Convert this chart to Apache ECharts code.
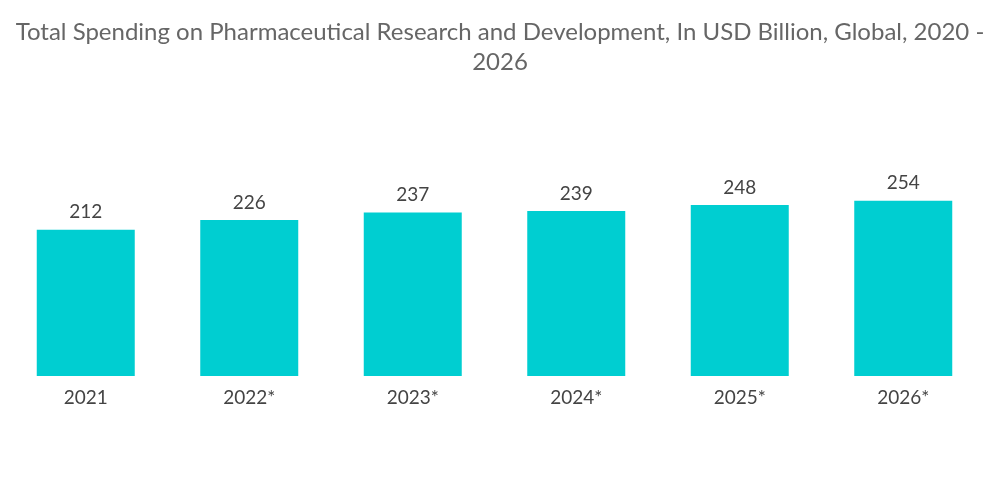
<!DOCTYPE html>
<html><head><meta charset="utf-8">
<script src="https://cdn.jsdelivr.net/npm/echarts@6/dist/echarts.min.js"></script>
<style>html,body{margin:0;padding:0;background:#fff}#c{width:1000px;height:504px}</style>
</head><body><div id="c"></div>
<script>
const categories = ['2021', '2022*', '2023*', '2024*', '2025*', '2026*'];
const values = [212, 226, 237, 239, 248, 254];
const titleText = 'Total Spending on Pharmaceutical Research and Development, In USD Billion, Global, 2020 -\n2026';

const chart = echarts.init(document.getElementById('c'));
chart.setOption({
  animation: false,
  backgroundColor: '#fff',
  title: {
    text: titleText,
    left: 'center',
    top: 12,
    textStyle: { fontFamily: 'Lato', fontWeight: 'normal', fontSize: 24, color: '#666', lineHeight: 30 }
  },
  grid: { left: 4, right: 15, top: 169, bottom: 128 },
  xAxis: {
    type: 'category',
    data: categories,
    axisLine: { show: false },
    axisTick: { show: false },
    axisLabel: { fontFamily: 'Lato', fontSize: 19, color: '#444', margin: 12 }
  },
  yAxis: {
    type: 'value', min: 0, max: 300, show: false,
    splitLine: { show: false }
  },
  series: [{
    type: 'bar',
    data: values,
    barWidth: 98,
    itemStyle: { color: '#00CED1' },
    label: { show: true, position: 'top', distance: 8, fontFamily: 'Lato', fontSize: 19, color: '#444' }
  }]
});
</script></body></html>
